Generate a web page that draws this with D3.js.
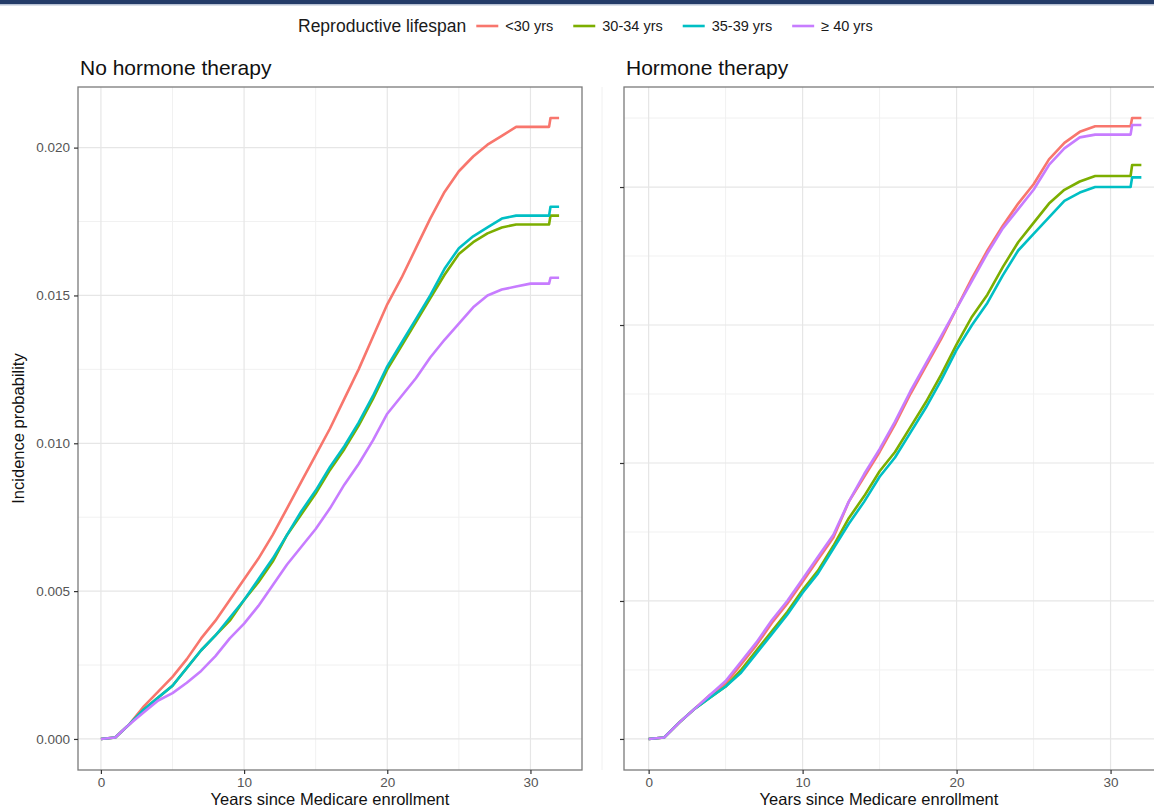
<!DOCTYPE html>
<html>
<head>
<meta charset="utf-8">
<script src="https://cdn.jsdelivr.net/npm/d3@7"></script>
<style>
  body { margin: 0; background: #fff; }
  svg { display: block; font-family: "Liberation Sans", Arial, sans-serif; }
</style>
</head>
<body>
<div id="chart"></div>
<script>
// years since enrollment (last points mark the final step)
const years = [0,1,2,3,4,5,6,7,8,9,10,11,12,13,14,15,16,17,18,19,20,21,22,23,24,25,26,27,28,29,30,31,31.3,31.4,32];

const groups = ["<30 yrs", "30-34 yrs", "35-39 yrs", "\u2265 40 yrs"];
const panelTitles = ["No hormone therapy", "Hormone therapy"];

// No hormone therapy
const noHT_lt30 = [0,0.00005,0.0005,0.0011,0.0016,0.0021,0.0027,0.0034,0.0040,0.0047,0.0054,0.0061,0.0069,0.0078,0.0087,0.0096,0.0105,0.0115,0.0125,0.0136,0.0147,0.0156,0.0166,0.0176,0.0185,0.0192,0.0197,0.0201,0.0204,0.0207,0.0207,0.0207,0.0207,0.0210,0.0210];
const noHT_30_34 = [0,0.00005,0.0005,0.0010,0.0014,0.0018,0.0024,0.0030,0.0035,0.0040,0.0047,0.0053,0.0060,0.0069,0.0076,0.0083,0.0091,0.0098,0.0106,0.0115,0.0125,0.0133,0.0141,0.0149,0.0157,0.0164,0.0168,0.0171,0.0173,0.0174,0.0174,0.0174,0.0174,0.0177,0.0177];
const noHT_35_39 = [0,0.00005,0.0005,0.0010,0.0014,0.0018,0.0024,0.0030,0.0035,0.0041,0.0047,0.0054,0.0061,0.0069,0.0077,0.0084,0.0092,0.0099,0.0107,0.0116,0.0126,0.0134,0.0142,0.0150,0.0159,0.0166,0.0170,0.0173,0.0176,0.0177,0.0177,0.0177,0.0177,0.0180,0.0180];
const noHT_ge40 = [0,0.00005,0.0005,0.0009,0.0013,0.00155,0.0019,0.0023,0.0028,0.0034,0.0039,0.0045,0.0052,0.0059,0.0065,0.0071,0.0078,0.0086,0.0093,0.0101,0.0110,0.0116,0.0122,0.0129,0.0135,0.01405,0.0146,0.0150,0.0152,0.0153,0.0154,0.0154,0.0154,0.0156,0.0156];

// Hormone therapy
const HT_lt30 = [0,0.00005,0.0006,0.0011,0.0016,0.0020,0.0027,0.0034,0.0042,0.0049,0.0057,0.0065,0.0073,0.0086,0.0095,0.0104,0.0114,0.0125,0.0135,0.0145,0.0156,0.0167,0.0177,0.0186,0.0194,0.0201,0.0210,0.0216,0.0220,0.0222,0.0222,0.0222,0.0222,0.0225,0.0225];
const HT_30_34 = [0,0.00005,0.0006,0.0011,0.0015,0.0019,0.0025,0.0032,0.0039,0.0046,0.0054,0.0061,0.0070,0.0080,0.0088,0.0097,0.0104,0.0113,0.0122,0.0132,0.0143,0.0153,0.0161,0.0171,0.0180,0.0187,0.0194,0.0199,0.0202,0.0204,0.0204,0.0204,0.0204,0.0208,0.0208];
const HT_35_39 = [0,0.00005,0.0006,0.0011,0.0015,0.0019,0.0024,0.0031,0.0038,0.0045,0.0053,0.0060,0.0069,0.0078,0.0086,0.0095,0.0102,0.0111,0.0120,0.0130,0.0141,0.0150,0.0158,0.0168,0.0177,0.0183,0.0189,0.0195,0.0198,0.0200,0.0200,0.0200,0.0200,0.02035,0.02035];
const HT_ge40 = [0,0.00005,0.0006,0.0011,0.0016,0.0021,0.0028,0.0035,0.0043,0.0050,0.0058,0.0066,0.0074,0.0086,0.0096,0.0105,0.0115,0.0126,0.0136,0.0146,0.0156,0.0166,0.0176,0.0185,0.0192,0.0199,0.0208,0.0214,0.0218,0.0219,0.0219,0.0219,0.0219,0.02225,0.02225];

const xTicks = [0, 10, 20, 30];
const yTicks = [0, 0.005, 0.010, 0.015, 0.020];

const panels = [
  {title: panelTitles[0], series: [noHT_lt30, noHT_30_34, noHT_35_39, noHT_ge40], left: 78, right: 582, labels: true},
  {title: panelTitles[1], series: [HT_lt30, HT_30_34, HT_35_39, HT_ge40], left: 624, right: 1166, labels: false}
];

const W = 1154, H = 810;
const plotTop = 87, plotBottom = 770;
const color = d3.scaleOrdinal().domain(groups).range(["#F8766D", "#7CAE00", "#00BFC4", "#C77CFF"]);

const svg = d3.select("#chart").append("svg").attr("width", W).attr("height", H);
svg.append("rect").attr("width", W).attr("height", H).attr("fill", "#fff");

// header bar
svg.append("rect").attr("x", 0).attr("y", 0).attr("width", W).attr("height", 4).attr("fill", "#243c68");
svg.append("rect").attr("x", 0).attr("y", 4).attr("width", W).attr("height", 1.5).attr("fill", "#b8c2d4");

// legend
const lg = svg.append("g").attr("transform", "translate(298,26)");
const lt = lg.append("text").attr("x", 0).attr("y", 6).attr("font-size", 17.5).attr("fill", "#1a1a1a").text("Reproductive lifespan");
let lx = lt.node().getComputedTextLength() + 10;
groups.forEach((g, i) => {
  lg.append("line").attr("x1", lx).attr("x2", lx + 22).attr("y1", 0).attr("y2", 0)
    .attr("stroke", color(g)).attr("stroke-width", 2.6);
  const t = lg.append("text").attr("x", lx + 29).attr("y", 5).attr("font-size", 14.5).attr("fill", "#1a1a1a").text(g);
  lx += 29 + t.node().getComputedTextLength() + 20;
});

panels.forEach(p => {
  const allVals = p.series.flat();
  const yMax = d3.max(allVals), xMax = d3.max(years);
  const x = d3.scaleLinear().domain([-0.05 * xMax, 1.05 * xMax]).range([p.left, p.right]);
  const y = d3.scaleLinear().domain([-0.05 * yMax, 1.05 * yMax]).range([plotBottom, plotTop]);

  const g = svg.append("g");
  g.append("defs").append("clipPath").attr("id", "clip" + p.left)
    .append("rect").attr("x", p.left).attr("y", plotTop).attr("width", p.right - p.left).attr("height", plotBottom - plotTop);

  // minor grid
  const xMinor = xTicks.slice(0, -1).map((d, i) => (d + xTicks[i + 1]) / 2).concat([xTicks[xTicks.length - 1] + 5]);
  const yMinor = yTicks.map(d => d + 0.0025).filter(d => d < y.domain()[1]);
  g.selectAll(".vmin").data(xMinor).join("line")
    .attr("x1", d => x(d)).attr("x2", d => x(d)).attr("y1", plotTop).attr("y2", plotBottom)
    .attr("stroke", "#f1f1f1").attr("stroke-width", 1);
  g.selectAll(".hmin").data(yMinor).join("line")
    .attr("x1", p.left).attr("x2", p.right).attr("y1", d => y(d)).attr("y2", d => y(d))
    .attr("stroke", "#f1f1f1").attr("stroke-width", 1);
  // major grid
  g.selectAll(".vmaj").data(xTicks).join("line")
    .attr("x1", d => x(d)).attr("x2", d => x(d)).attr("y1", plotTop).attr("y2", plotBottom)
    .attr("stroke", "#e6e6e6").attr("stroke-width", 1.2);
  g.selectAll(".hmaj").data(yTicks).join("line")
    .attr("x1", p.left).attr("x2", p.right).attr("y1", d => y(d)).attr("y2", d => y(d))
    .attr("stroke", "#e6e6e6").attr("stroke-width", 1.2);

  // curves
  const line = d3.line().x((d, i) => x(years[i])).y(d => y(d));
  g.append("g").attr("clip-path", `url(#clip${p.left})`)
    .selectAll("path").data(p.series).join("path")
    .attr("d", line)
    .attr("fill", "none")
    .attr("stroke", (d, i) => color(groups[i]))
    .attr("stroke-width", 2.6)
    .attr("stroke-linejoin", "round");

  // border
  g.append("rect").attr("x", p.left).attr("y", plotTop).attr("width", p.right - p.left).attr("height", plotBottom - plotTop)
    .attr("fill", "none").attr("stroke", "#7a7a7a").attr("stroke-width", 1.3);

  // axes
  const ax = g.append("g").attr("transform", `translate(0,${plotBottom})`)
    .call(d3.axisBottom(x).tickValues(xTicks).tickSize(4).tickPadding(3).tickFormat(d3.format("d")));
  const ay = g.append("g").attr("transform", `translate(${p.left},0)`)
    .call(d3.axisLeft(y).tickValues(yTicks).tickSize(4).tickPadding(4)
      .tickFormat(p.labels ? d3.format(".3f") : ""));
  [ax, ay].forEach(a => {
    a.select(".domain").remove();
    a.selectAll(".tick line").attr("stroke", "#333").attr("stroke-width", 1.2);
    a.selectAll(".tick text").attr("fill", "#555").attr("font-size", 13.5)
      .attr("font-family", "Liberation Sans, Arial, sans-serif");
  });

  // titles
  svg.append("text").attr("x", p.left + 2).attr("y", 75).attr("font-size", 21).attr("fill", "#111").text(p.title);
  svg.append("text").attr("x", (p.left + Math.min(p.right, W)) / 2 - (p.labels ? 0 : 10)).attr("y", 805)
    .attr("text-anchor", "middle").attr("font-size", 16.5).attr("fill", "#111")
    .text("Years since Medicare enrollment");
});

svg.append("text").attr("transform", `translate(24,${(plotTop + plotBottom) / 2}) rotate(-90)`)
  .attr("text-anchor", "middle").attr("font-size", 16.5).attr("fill", "#111").text("Incidence probability");
</script>
</body>
</html>
